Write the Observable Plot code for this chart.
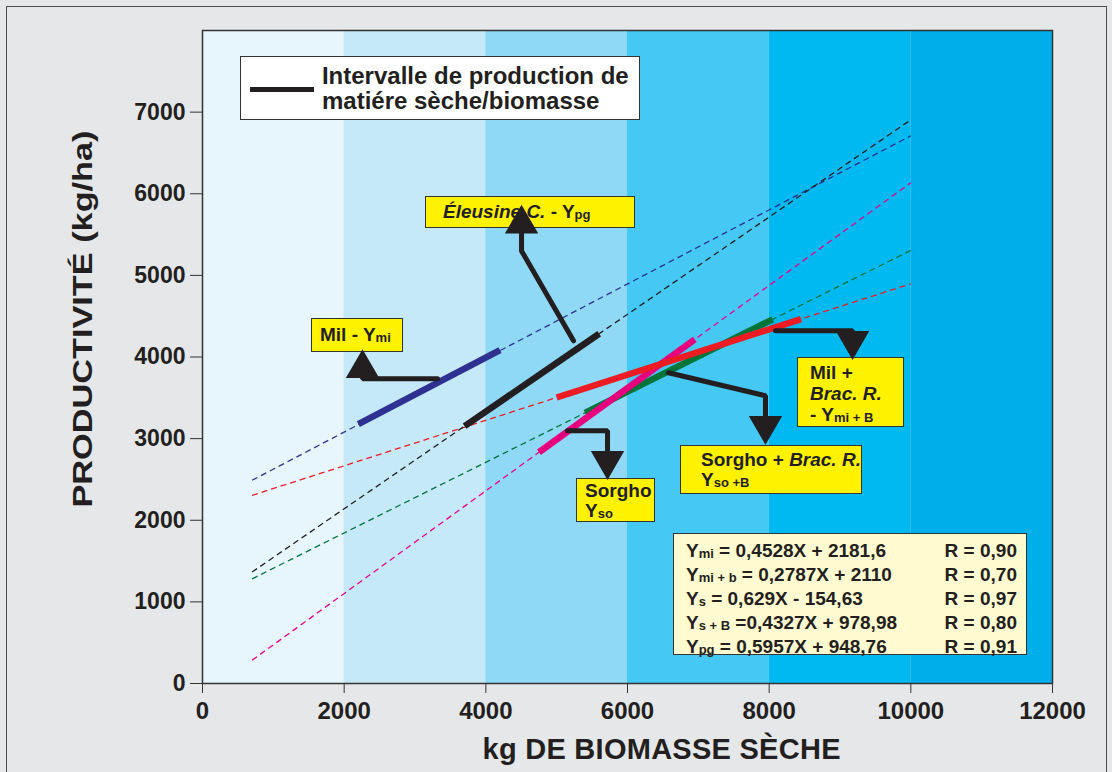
<!DOCTYPE html>
<html>
<head>
<meta charset="utf-8">
<script src="https://cdn.jsdelivr.net/npm/d3@7"></script>
<script src="https://cdn.jsdelivr.net/npm/@observablehq/plot@0.6"></script>
<style>
  html, body { margin: 0; padding: 0; background: #e6e7e8; }
  #wrap { position: relative; width: 1112px; height: 772px; overflow: hidden; background: #e6e7e8;
          font-family: "Liberation Sans", Arial, Helvetica, sans-serif; color: #231f20; }
  #border { position: absolute; left: 6px; top: 6px; width: 1101px; height: 790px; border: 1.5px solid #4d4d4d; box-sizing: border-box; }
  #wrap svg { position: absolute; left: 0; top: 0; }
  svg g[aria-label="y-axis tick label"] { font-size: 23px; font-weight: bold; }
  svg g[aria-label="x-axis tick label"] { font-size: 24px; font-weight: bold; }
  .box { position: absolute; box-sizing: border-box; border: 1.5px solid #333; background: #fff200;
         color: #231f20; font-weight: bold; font-size: 19px; line-height: 21px; white-space: nowrap; }
  .box sub, .eq sub { font-size: 13px; vertical-align: baseline; position: relative; top: 1px; }
  .eq { position: absolute; box-sizing: border-box; border: 1.5px solid #333; background: #fffad0;
        color: #231f20; font-weight: bold; font-size: 19px; line-height: 22px; white-space: nowrap;
        padding: 6px 9px 0 12px; }
  .eq .row { display: flex; justify-content: space-between; }
  .legend { position: absolute; box-sizing: border-box; border: 1.5px solid #333; background: #ffffff;
            color: #231f20; font-weight: bold; font-size: 24px; line-height: 25px; white-space: nowrap; }
  .legend .swatch { position: absolute; left: 9px; top: 30px; width: 64px; height: 5px; background: #231f20; }
  .legend .txt { position: absolute; left: 81px; top: 6px; }
</style>
</head>
<body>
<div id="wrap"><div id="border"></div></div>
<script>
// ---- axes ----
const xTicks = [0, 2000, 4000, 6000, 8000, 10000, 12000];
const yTicks = [0, 1000, 2000, 3000, 4000, 5000, 6000, 7000];

// ---- background bands (biomass classes) ----
const bandStart = [0, 2000, 4000, 6000, 8000, 10000];
const bandEnd   = [2000, 4000, 6000, 8000, 10000, 12000];
const bandColor = ["#e7f5fd", "#c6e9fa", "#8fd8f6", "#45c8f3", "#00b9f1", "#00aeea"];

// ---- regression trend lines (dashed), endpoints ----
const trendName  = ["Ymi", "Ymi+b", "Ys", "Ys+B", "Ypg"];
const trendXStart = [700, 700, 700, 700, 700];
const trendYStart = [2490, 2305, 285, 1282, 1366];
const trendXEnd   = [10000, 10000, 10000, 10000, 10000];
const trendYEnd   = [6710, 4897, 6135, 5306, 6906];
const trendColor  = ["#2e3192", "#ed1c24", "#ec008c", "#00733b", "#231f20"];

// ---- production intervals (thick segments) ----
const segName   = ["Éleusine", "Mil", "Sorgho + Brac.", "Sorgho", "Mil + Brac."];
const segXStart = [3700, 2200, 5400, 4750, 5000];
const segYStart = [3153, 3178, 3316, 2833, 3504];
const segXEnd   = [5600, 4200, 8050, 6950, 8450];
const segYEnd   = [4285, 4083, 4462, 4217, 4465];
const segColor  = ["#231f20", "#2e3192", "#00753a", "#e6007e", "#ed1c24"];

// ---- annotation arrows (data coordinates) ----
const arrowId = ["mi","mi","mi", "pg","pg","pg", "mib","mib","mib", "sob","sob","sob", "so","so","so"];
const arrowX  = [3318, 2259, 2259,  5238, 4504, 4504,  8090, 9177, 9177,  6579, 7948, 7948,  5153, 5718, 5718];
const arrowY  = [3733, 3733, 3860,  4198, 5300, 5630,  4321, 4321, 4200,  3807, 3525, 3160,  3097, 3097, 2730];
const headX   = [2259, 4504, 9177, 7948, 5718];
const headY   = [3860, 5630, 4200, 3160, 2730];
const headRot = [0, 0, 180, 180, 180];

// ---- label boxes: anchor (top-left) in data coordinates ----
const labelX = { pg: 3148, mi: 1539, mib: 8400, so: 5280, sob: 6748, eq: 6649, legend: 536 };
const labelY = { pg: 5972, mi: 4467, mib: 3990, so: 2509, sob: 2913, eq: 1836, legend: 7686 };

// equations
const eqLeft  = ["Y<sub>mi</sub> = 0,4528X + 2181,6", "Y<sub>mi + b</sub> = 0,2787X + 2110", "Y<sub>s</sub> = 0,629X - 154,63", "Y<sub>s + B</sub> =0,4327X + 978,98", "Y<sub>pg</sub> = 0,5957X + 948,76"];
const eqRight = ["R = 0,90", "R = 0,70", "R = 0,97", "R = 0,80", "R = 0,91"];

const bands = bandStart.map((s, i) => ({x1: s, x2: bandEnd[i], color: bandColor[i]}));
const trends = trendName.map((n, i) => ({name: n, x1: trendXStart[i], y1: trendYStart[i], x2: trendXEnd[i], y2: trendYEnd[i], color: trendColor[i]}));
const segs = segName.map((n, i) => ({name: n, x1: segXStart[i], y1: segYStart[i], x2: segXEnd[i], y2: segYEnd[i], color: segColor[i]}));
const arrows = arrowId.map((id, i) => ({id, x: arrowX[i], y: arrowY[i]}));
const heads = headX.map((x, i) => ({x, y: headY[i], rot: headRot[i]}));

const frameOpts = {
  width: 1112, height: 772,
  marginLeft: 202, marginRight: 60, marginTop: 30, marginBottom: 89,
  style: { background: "transparent", color: "#231f20", fontFamily: "'Liberation Sans', Arial, sans-serif" },
  x: { domain: [0, 12000], ticks: xTicks, tickSize: 10, tickPadding: 8, tickFormat: d => String(d), label: null },
  y: { domain: [0, 8000], ticks: yTicks, tickSize: 12, tickPadding: 5, tickFormat: d => String(d), label: null },
  color: { type: "identity" }
};

const chart = Plot.plot({
  ...frameOpts,
  marks: [
    Plot.rect(bands, { x1: "x1", x2: "x2", y1: 0, y2: 8000, fill: "color" }),
    Plot.link(trends, { x1: "x1", y1: "y1", x2: "x2", y2: "y2", stroke: "color", strokeWidth: 1.3, strokeDasharray: "6,4" }),
    Plot.link(segs, { x1: "x1", y1: "y1", x2: "x2", y2: "y2", stroke: "color", strokeWidth: 6.5, strokeLinecap: "butt" }),
    Plot.frame({ stroke: "#333", strokeWidth: 1.5 }),
    Plot.axisX({ ticks: xTicks, tickSize: 10, tickPadding: 8, tickFormat: d => String(d), label: null, stroke: "#333" }),
    Plot.axisY({ ticks: yTicks, tickSize: 12, tickPadding: 5, tickFormat: d => String(d), label: null, stroke: "#333" }),
    Plot.text(["kg DE BIOMASSE SÈCHE"], { frameAnchor: "bottom", textAnchor: "middle", lineAnchor: "middle", dx: 34, dy: 66, fontSize: 29, fontWeight: "bold", fill: "#231f20" }),
    Plot.text(["PRODUCTIVITÉ (kg/ha)"], { frameAnchor: "left", textAnchor: "middle", lineAnchor: "middle", dx: -120, dy: -38, rotate: -90, fontSize: 34, fontWeight: "bold", fill: "#231f20" })
  ]
});

// fit axis titles to the extent seen in the reference
chart.querySelectorAll("text").forEach(t => {
  if (t.textContent === "PRODUCTIVITÉ (kg/ha)") {
    t.setAttribute("textLength", 377); t.setAttribute("lengthAdjust", "spacingAndGlyphs");
    const tr = t.getAttribute("transform");
    if (tr) t.setAttribute("transform", tr + " scale(1,0.84)");
  }
  if (t.textContent === "kg DE BIOMASSE SÈCHE") { t.setAttribute("textLength", 358); t.setAttribute("lengthAdjust", "spacing"); }
});

const wrap = document.getElementById("wrap");
wrap.appendChild(chart);
const sx = chart.scale("x"), sy = chart.scale("y");

function addBox(cls, key, w, h, html, extraStyle) {
  const d = document.createElement("div");
  d.className = cls;
  d.style.left = sx.apply(labelX[key]) + "px";
  d.style.top = sy.apply(labelY[key]) + "px";
  d.style.width = w + "px";
  d.style.height = h + "px";
  if (extraStyle) Object.assign(d.style, extraStyle);
  d.innerHTML = html;
  wrap.appendChild(d);
  return d;
}

addBox("legend", "legend", 400, 64,
  '<div class="swatch"></div><div class="txt">Intervalle de production de<br>matiére sèche/biomasse</div>');
addBox("box", "pg", 210, 32,
  '<i>Éleusine C.</i> - Y<sub>pg</sub>', { padding: "4px 0 0 17px" });
addBox("box", "mi", 92, 34,
  'Mil - Y<sub>mi</sub>', { padding: "5px 0 0 8px" });
addBox("box", "mib", 107, 70,
  'Mil +<br><i>Brac. R.</i><br>- Y<sub>mi + B</sub>', { padding: "4px 0 0 12px" });
addBox("box", "so", 79, 44,
  'Sorgho<br>Y<sub>so</sub>', { padding: "2px 0 0 8px", lineHeight: "20px" });
addBox("box", "sob", 182, 49,
  'Sorgho + <i>Brac. R.</i><br>Y<sub>so +B</sub>', { padding: "4px 0 0 20px", lineHeight: "20px" });
addBox("eq", "eq", 354, 122,
  eqLeft.map((l, i) => `<div class="row"><span>${l}</span><span>${eqRight[i]}</span></div>`).join(""));

// arrows drawn on top of the label boxes (same scales, transparent layer)
const arrowLayer = Plot.plot({
  ...frameOpts,
  x: { ...frameOpts.x, axis: null },
  y: { ...frameOpts.y, axis: null },
  marks: [
    Plot.line(arrows, { x: "x", y: "y", z: "id", stroke: "#231f20", strokeWidth: 5, strokeLinejoin: "miter", curve: "linear" }),
    Plot.dot(heads, { x: "x", y: "y", symbol: "triangle", r: 12.4, fill: "#231f20", stroke: "none", rotate: "rot" })
  ]
});
arrowLayer.style.pointerEvents = "none";
wrap.appendChild(arrowLayer);
</script>
</body>
</html>
